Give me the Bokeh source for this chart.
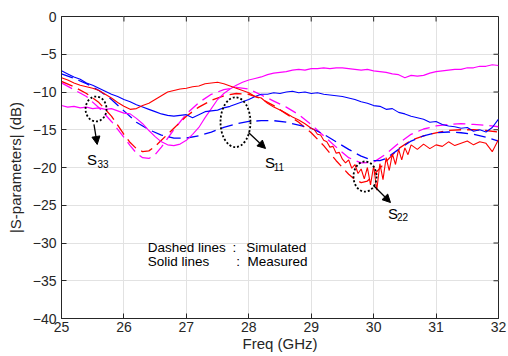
from bokeh.plotting import figure
from bokeh.models import FixedTicker, Arrow, NormalHead, Label, Range1d
from bokeh.embed import file_html
from bokeh.resources import INLINE

# ---------------- data ----------------
x_ticks = [25, 26, 27, 28, 29, 30, 31, 32]
y_ticks = [-40, -35, -30, -25, -20, -15, -10, -5, 0]

# measured (solid)
f_meas = [25.0 + 0.1 * i for i in range(71)]
blue_meas = [-7.2, -7.6, -8.0, -8.3, -8.8, -9.1, -9.5, -9.9, -10.3, -10.6,
             -11.0, -11.3, -11.7, -12.0, -12.3, -12.6, -12.9, -13.1, -13.2, -13.1,
             -13.0, -13.4, -13.0, -12.6, -12.5, -12.4, -12.1, -11.9, -11.6, -11.3,
             -11.0, -10.6, -10.3, -10.3, -10.1, -10.2, -10.0, -9.9, -10.1, -10.0,
             -10.2, -10.1, -10.3, -10.4, -10.5, -10.6, -10.8, -11.0, -11.3, -11.5,
             -11.8, -11.9, -12.3, -12.2, -12.7, -12.9, -13.2, -13.4, -13.6, -14.0,
             -13.9, -14.3, -14.5, -14.6, -14.8, -14.7, -15.2, -15.0, -15.3, -14.7,
             -13.6]
magenta_meas = [-11.8, -12.0, -11.9, -12.1, -12.0, -12.2, -12.1, -12.3, -12.2, -12.5,
                -12.8, -12.9, -13.5, -14.2, -15.1, -15.9, -16.6, -17.0, -17.1, -16.9,
                -16.4, -15.6, -14.7, -13.4, -12.2, -11.0, -10.2, -9.6, -9.1, -8.7,
                -8.4, -8.2, -8.0, -7.7, -7.5, -7.4, -7.3, -7.1, -7.0, -7.1,
                -6.9, -6.9, -6.8, -6.9, -6.8, -6.8, -6.9, -7.0, -7.1, -7.0,
                -7.2, -7.3, -7.4, -7.6, -7.7, -8.1, -7.8, -7.9, -7.8, -7.5,
                -7.3, -7.2, -7.1, -7.0, -7.0, -6.8, -6.8, -6.6, -6.6, -6.4,
                -6.5]
f_red_meas = [25.0, 25.1, 25.2, 25.3, 25.4, 25.5, 25.6, 25.7, 25.8, 25.9,
              26.0, 26.1, 26.2, 26.3, 26.4, 26.5, 26.6, 26.7, 26.8, 26.9,
              27.0, 27.1, 27.2, 27.3, 27.4, 27.5, 27.6, 27.7, 27.8, 27.9,
              28.0, 28.1, 28.2, 28.3, 28.4, 28.5, 28.6, 28.7, 28.8, 28.9,
              29.0, 29.05, 29.1, 29.15, 29.2, 29.25, 29.3, 29.35, 29.4, 29.45,
              29.5, 29.55, 29.6, 29.65, 29.7, 29.75, 29.8, 29.85, 29.9, 29.95,
              30.0, 30.05, 30.1, 30.15, 30.2, 30.25, 30.3, 30.35, 30.4, 30.45,
              30.5, 30.55, 30.6, 30.7, 30.8, 30.9, 31.0, 31.1, 31.2, 31.3,
              31.4, 31.5, 31.6, 31.7, 31.8, 31.9, 32.0]
red_meas = [-8.1, -8.4, -8.8, -9.1, -9.3, -9.5, -9.8, -10.3, -10.8, -11.4,
            -11.9, -12.3, -12.2, -11.8, -11.5, -11.0, -10.5, -10.0, -9.8, -9.6,
            -9.5, -9.3, -9.2, -8.9, -8.8, -8.7, -8.9, -9.2, -9.5, -9.8,
            -10.1, -10.6, -10.8, -11.5, -12.0, -12.4, -12.8, -13.3, -13.7, -14.2,
            -14.8, -15.0, -15.6, -15.7, -16.4, -16.6, -17.3, -17.2, -18.1, -18.0,
            -18.9, -19.4, -19.0, -20.1, -19.6, -20.8, -20.2, -21.5, -20.0, -22.3,
            -19.8, -23.0, -19.5, -21.6, -18.7, -20.4, -18.2, -19.6, -17.6, -19.0,
            -17.4, -18.3, -17.0, -17.6, -16.9, -17.5, -17.0, -17.2, -16.6, -17.1,
            -16.8, -16.5, -17.0, -16.6, -16.8, -17.9, -16.3]

# simulated (dashed)
f_mag_sim = [25.0, 25.2, 25.4, 25.6, 25.8, 26.0, 26.1, 26.2, 26.3, 26.4, 26.5, 26.6,
             26.8, 27.0, 27.2, 27.4, 27.6, 27.8, 28.0, 28.2, 28.4, 28.6, 28.8, 29.0,
             29.2, 29.4, 29.6, 29.8, 30.0, 30.2, 30.4, 30.6, 30.8, 31.0, 31.2, 31.4,
             31.6, 31.8, 32.0]
magenta_sim = [-8.8, -9.7, -10.6, -12.1, -13.9, -16.0, -17.1, -18.1, -18.7, -18.8, -18.3, -17.3,
               -15.0, -12.9, -11.4, -10.3, -9.7, -9.4, -9.6, -10.4, -11.2, -12.0, -13.0, -14.3,
               -15.8, -17.3, -18.7, -19.4, -19.3, -18.2, -16.8, -15.6, -14.9, -14.5, -14.3, -14.2,
               -14.3, -14.4, -14.6]
f_red_sim = [25.0, 25.2, 25.4, 25.6, 25.8, 26.0, 26.1, 26.2, 26.3, 26.4, 26.5, 26.6,
             26.8, 27.0, 27.2, 27.4, 27.6, 27.8, 28.0, 28.2, 28.4, 28.6, 28.8, 29.0,
             29.2, 29.4, 29.6, 29.7, 29.8, 29.9, 30.0, 30.2, 30.4, 30.6, 30.8, 31.0,
             31.2, 31.4, 31.6, 31.8, 32.0]
red_sim = [-8.6, -9.3, -10.2, -11.4, -13.2, -15.6, -16.7, -17.5, -17.9, -17.8, -17.2, -16.4,
           -14.8, -13.2, -12.0, -11.1, -10.5, -10.2, -10.3, -10.9, -11.8, -12.9, -14.0, -15.4,
           -17.1, -19.1, -20.9, -21.6, -22.0, -21.8, -21.0, -19.2, -17.5, -16.4, -15.8, -15.4,
           -15.1, -15.0, -15.0, -15.1, -15.3]
f_blue_sim = [25.0, 25.2, 25.4, 25.6, 25.8, 26.0, 26.2, 26.4, 26.6, 26.8, 27.0, 27.2,
              27.4, 27.6, 27.8, 28.0, 28.2, 28.4, 28.6, 28.8, 29.0, 29.2, 29.4, 29.6,
              29.8, 30.0, 30.1, 30.2, 30.4, 30.6, 30.8, 31.0, 31.2, 31.4, 31.6, 31.8, 32.0]
blue_sim = [-7.6, -8.2, -8.9, -9.8, -11.0, -12.5, -14.0, -15.0, -15.7, -16.1, -16.1, -15.8,
            -15.3, -14.7, -14.2, -13.9, -13.8, -13.8, -14.0, -14.4, -14.8, -15.6, -16.6, -17.6,
            -18.5, -19.1, -19.1, -18.8, -17.6, -16.5, -15.8, -15.4, -15.3, -15.4, -15.6, -16.0, -16.5]

# annotations: (center x, center y, width, height)
ellipses_x = [25.553, 27.787, 29.862]
ellipses_y = [-12.25, -14.0, -21.2]
ellipses_w = [0.336, 0.48, 0.37]
ellipses_h = [3.3, 6.6, 4.0]

FONT = "Liberation Sans"
DARK = "#262626"

p = figure(width=508, height=356, x_range=Range1d(25, 32), y_range=Range1d(-40, 0),
           output_backend="svg", toolbar_location=None,
           min_border_left=61, min_border_right=10, min_border_top=16, min_border_bottom=38)
p.background_fill_color = "white"
p.border_fill_color = "white"
p.outline_line_color = DARK
p.outline_line_width = 1

for ax, ticks in ((p.xaxis[0], x_ticks), (p.yaxis[0], y_ticks)):
    ax.ticker = FixedTicker(ticks=ticks)
    ax.major_tick_in = 5
    ax.major_tick_out = 0
    ax.minor_tick_line_color = None
    ax.major_tick_line_color = DARK
    ax.axis_line_color = DARK
    ax.major_label_text_font = FONT
    ax.major_label_text_font_size = "14px"
    ax.major_label_text_color = DARK
    ax.axis_label_text_font = FONT
    ax.axis_label_text_font_size = "15px"
    ax.axis_label_text_font_style = "normal"
    ax.axis_label_text_color = DARK

p.xaxis.axis_label = "Freq (GHz)"
p.yaxis.axis_label = "|S-parameters| (dB)"
p.xaxis.major_label_standoff = 3
p.xaxis.axis_label_standoff = 0
p.yaxis.major_label_standoff = 5
p.yaxis.axis_label_standoff = 6

p.xgrid.ticker = FixedTicker(ticks=x_ticks)
p.ygrid.ticker = FixedTicker(ticks=y_ticks)
p.grid.grid_line_color = "#e2e2e2"
p.grid.grid_line_width = 1

# inward ticks on the top and right edges of the box (5 px long)
tx = 5 / 62.4
ty = 5 / 7.55
p.segment(x0=x_ticks, y0=[0] * len(x_ticks), x1=x_ticks, y1=[-ty] * len(x_ticks),
          line_color=DARK, line_width=1)
p.segment(x0=[32] * len(y_ticks), y0=y_ticks, x1=[32 - tx] * len(y_ticks), y1=y_ticks,
          line_color=DARK, line_width=1)

RED, BLUE, MAG = "#ff0000", "#0000ff", "#ff00ff"
DASH = "12 6"

p.line(f_mag_sim, magenta_sim, line_color=MAG, line_width=1.3, line_dash=DASH)
p.line(f_red_sim, red_sim, line_color=RED, line_width=1.3, line_dash=DASH)
p.line(f_blue_sim, blue_sim, line_color=BLUE, line_width=1.3, line_dash=DASH)
p.line(f_meas, magenta_meas, line_color=MAG, line_width=1.1)
p.line(f_meas, blue_meas, line_color=BLUE, line_width=1.1)
p.line(f_red_meas, red_meas, line_color=RED, line_width=1.1)

p.ellipse(x=ellipses_x, y=ellipses_y, width=ellipses_w, height=ellipses_h,
          fill_color=None, line_color="black", line_width=1.8, line_dash="2 2")

arrows = [((25.52, -14.3), (25.572, -16.95)),
          ((27.995, -15.36), (28.268, -17.48)),
          ((29.998, -22.38), (30.27, -24.64))]
for (xs, ys), (xe, ye) in arrows:
    p.add_layout(Arrow(end=NormalHead(size=8, fill_color="black", line_color="black"),
                       x_start=xs, y_start=ys, x_end=xe, y_end=ye,
                       line_color="black", line_width=1.3))

def sub_label(x, y, main, sub, xs, ys):
    p.add_layout(Label(x=x, y=y, text=main, text_font=FONT, text_font_size="15px",
                       text_baseline="middle", text_align="left", text_color="black"))
    p.add_layout(Label(x=xs, y=ys, text=sub, text_font=FONT, text_font_size="10px",
                       text_baseline="middle", text_align="left", text_color="black"))

sub_label(25.41, -18.9, "S", "33", 25.575, -19.5)
sub_label(28.26, -19.3, "S", "11", 28.40, -19.95)
sub_label(30.23, -26.1, "S", "22", 30.375, -26.6)

for txt, xx, yy in (("Dashed lines", 26.38, -30.55), (":", 27.74, -30.55), ("Simulated", 27.96, -30.55),
                    ("Solid lines", 26.38, -32.45), (":", 27.80, -32.45), ("Measured", 27.98, -32.45)):
    p.add_layout(Label(x=xx, y=yy, text=txt, text_font=FONT, text_font_size="13.5px",
                       text_baseline="middle", text_align="left", text_color="black"))

open("out.html", "w").write(file_html(p, INLINE))
